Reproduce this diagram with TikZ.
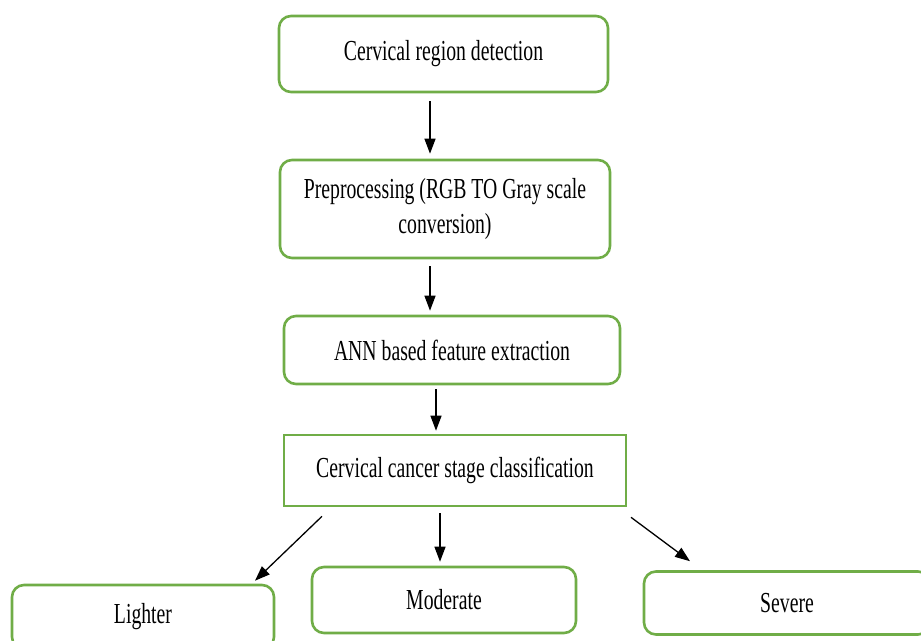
\documentclass[tikz,border=0pt]{standalone}
\usepackage{fontspec}
\setmainfont{Liberation Serif}[FakeStretch=0.68]
\usetikzlibrary{arrows.meta}
\definecolor{boxgreen}{RGB}{112,173,71}
\begin{document}
\begin{tikzpicture}[x=1pt,y=-1pt,
  box/.style={draw=boxgreen,line width=2.6pt,rounded corners=12pt,fill=white,
    align=center,font=\fontsize{29}{35}\selectfont,inner sep=0pt},
  sbox/.style={box,rounded corners=0pt},
  arr/.style={draw=black,line width=1.3pt,-{Triangle[length=15pt,width=11pt]}}]
\useasboundingbox (0,0) rectangle (921,640);
\clip (0,0) rectangle (921,640);
\fill[white] (0,0) rectangle (921,640);
\node[box,minimum width=329pt,minimum height=76pt] (b1) at (443.5,54) {Cervical region detection};
\node[box,minimum width=330pt,minimum height=98pt] (b2) at (445,209) {Preprocessing (RGB TO Gray scale\\conversion)};
\node[box,minimum width=336pt,minimum height=68pt] (b3) at (452,350) {ANN based feature extraction};
\node[sbox,minimum width=342pt,minimum height=71pt] (b4) at (455,470.5) {Cervical cancer stage classification};
\node[box,minimum width=262pt,minimum height=64pt] (l) at (143,617) {Lighter};
\node[box,minimum width=264pt,minimum height=66pt] (m) at (444,600) {Moderate};
\node[box,minimum width=286pt,minimum height=63pt] (s) at (787,603) {Severe};
\draw[arr] ([shift={(-13.5,8)}]b1.south) -- ([shift={(-15,-5)}]b2.north);
\draw[arr] ([shift={(-15,7)}]b2.south) -- ([shift={(-22,-4)}]b3.north);
\draw[arr] ([shift={(-16,4)}]b3.south) -- ([shift={(-19,-3)}]b4.north);
\draw[arr] ([shift={(-133,9)}]b4.south) -- ([shift={(112,-3)}]l.north);
\draw[arr] ([shift={(-15,6)}]b4.south) -- ([shift={(-4,-4)}]m.north);
\draw[arr] ([shift={(176,10)}]b4.south) -- ([shift={(-97,-9)}]s.north);
\end{tikzpicture}
\end{document}
